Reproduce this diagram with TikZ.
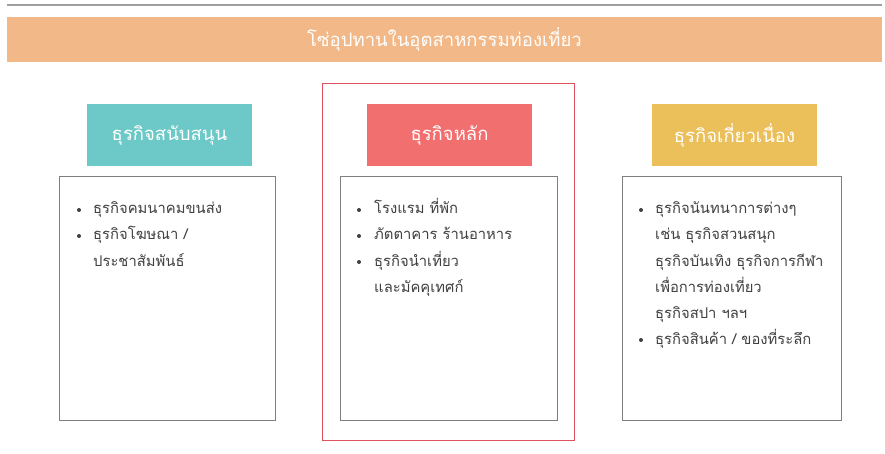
\documentclass[tikz,border=0pt]{standalone}
\usepackage{fontspec}
\newfontfamily\thaifont[Script=Thai]{Loma}
\definecolor{bannerc}{HTML}{F3B887}
\definecolor{tealc}{HTML}{6DC9C8}
\definecolor{redc}{HTML}{F26F6F}
\definecolor{yelc}{HTML}{EBC05B}
\definecolor{txtc}{HTML}{404040}
\definecolor{edgec}{HTML}{7F7F7F}
\definecolor{outc}{HTML}{E0505E}
\begin{document}
\begin{tikzpicture}[x=1pt,y=-1pt,
  hdr/.style={minimum width=165pt,minimum height=62pt,inner sep=0pt,text=white,font=\thaifont\fontsize{18.5}{22}\selectfont},
  cbox/.style={draw=edgec,line width=0.8pt,fill=white},
  item/.style={anchor=base west,inner sep=0pt,text=txtc,font=\thaifont\fontsize{14.8}{18}\selectfont},
  bul/.style={circle,fill=txtc,inner sep=0pt,minimum size=4pt}]
\useasboundingbox (0,0) rectangle (885,454);
\fill[white] (0,0) rectangle (885,454);
\coordinate (gl) at (7,5); \coordinate (gr) at (882,5);
\draw[color=gray!75,line width=1.2pt] (gl) -- (gr);
\node[fill=bannerc,minimum width=875pt,minimum height=45pt,inner sep=0pt,text=white,font=\thaifont\fontsize{18.5}{22}\selectfont] (title) at (444.5,39.5) {โซ่อุปทานในอุตสาหกรรมท่องเที่ยว};
% outline of core column
\node[draw=outc,line width=0.8pt,minimum width=252pt,minimum height=357pt,inner sep=0pt] (core) at (448,261.5) {};
% headers
\node[hdr,fill=tealc] (h1) at (169.5,135) {ธุรกิจสนับสนุน};
\node[hdr,fill=redc] (h2) at (449.5,135) {ธุรกิจหลัก};
\node[hdr,fill=yelc] (h3) at (734.5,135) {ธุรกิจเกี่ยวเนื่อง};
% content boxes
\draw[cbox] (59,176) rectangle (275,420);
\draw[cbox] (340,176) rectangle (557,420);
\draw[cbox] (622,176) rectangle (841,420);
% left
\node[bul] (b11) at (79,210) {};
\node[item] (t11) at (93,214) {ธุรกิจคมนาคมขนส่ง};
\node[bul] (b12) at (79,236) {};
\node[item] (t12) at (93,240) {ธุรกิจโฆษณา /};
\node[item] (t13) at (93,266) {ประชาสัมพันธ์};
% middle
\node[bul] (b21) at (359,210) {};
\node[item] (t21) at (374,214) {โรงแรม ที่พัก};
\node[bul] (b22) at (359,236) {};
\node[item] (t22) at (374,240) {ภัตตาคาร ร้านอาหาร};
\node[bul] (b23) at (359,262) {};
\node[item] (t23) at (374,266) {ธุรกิจนำเที่ยว};
\node[item] (t24) at (374,292) {และมัคคุเทศก์};
% right
\node[bul] (b31) at (641,210) {};
\node[item] (t31) at (655,214) {ธุรกิจนันทนาการต่างๆ};
\node[item] (t32) at (655,240) {เช่น ธุรกิจสวนสนุก};
\node[item] (t33) at (655,266) {ธุรกิจบันเทิง ธุรกิจการกีฬา};
\node[item] (t34) at (655,292) {เพื่อการท่องเที่ยว};
\node[item] (t35) at (655,318) {ธุรกิจสปา ฯลฯ};
\node[bul] (b32) at (641,340) {};
\node[item] (t36) at (655,344) {ธุรกิจสินค้า / ของที่ระลึก};
\end{tikzpicture}
\end{document}
